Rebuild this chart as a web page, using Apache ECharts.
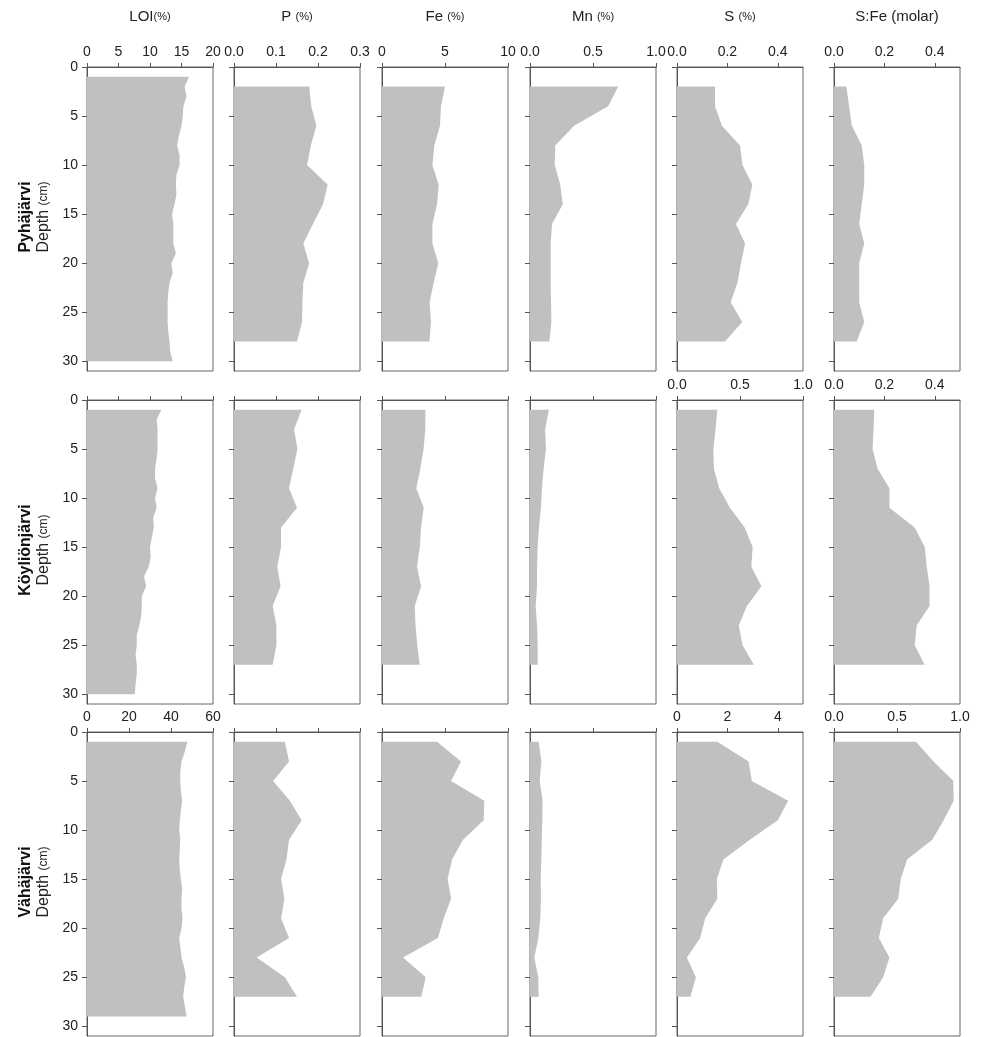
<!DOCTYPE html>
<html><head><meta charset="utf-8">
<script src="https://cdn.jsdelivr.net/npm/echarts@6/dist/echarts.min.js"></script>
<style>html,body{margin:0;padding:0;background:#fff}#c{width:981px;height:1037px}</style>
</head><body><div id="c"></div>
<script>
// ---------------- DATA ----------------
const columnTitles = ['LOI', 'P', 'Fe', 'Mn', 'S', 'S:Fe'];
const lakeNames = ['Pyhäjärvi', 'Köyliönjärvi', 'Vähäjärvi'];
const depthTicks = [0, 5, 10, 15, 20, 25, 30];

// Pyhäjärvi
const pyhLoiDepth = [1,2,3,4,5,6,7,8,9,10,11,12,13,14,15,16,17,18,19,20,21,22,23,24,25,26,27,28,29,30];
const pyhLoi = [16.2,15.5,15.8,15.3,15.2,15.0,14.6,14.3,14.7,14.7,14.2,14.1,14.2,13.9,13.5,13.7,13.7,13.7,14.1,13.4,13.6,13.1,12.9,12.8,12.8,12.8,12.9,13.1,13.2,13.6];
const pyhDepth = [2,4,6,8,10,12,14,16,18,20,22,24,26,28];
const pyhP   = [0.179,0.184,0.196,0.183,0.174,0.223,0.212,0.188,0.165,0.179,0.165,0.163,0.162,0.150];
const pyhFe  = [5.0,4.68,4.6,4.15,4.0,4.5,4.37,4.0,4.0,4.47,4.1,3.78,3.89,3.76];
const pyhMn  = [0.70,0.62,0.35,0.20,0.196,0.24,0.26,0.175,0.164,0.164,0.164,0.167,0.17,0.153];
const pyhS   = [0.151,0.151,0.178,0.25,0.26,0.299,0.283,0.234,0.27,0.254,0.24,0.213,0.259,0.19];
const pyhSFe = [0.049,0.06,0.071,0.11,0.12,0.12,0.11,0.10,0.12,0.10,0.10,0.10,0.12,0.09];

// Köyliönjärvi
const koyLoiDepth = [1,2,3,4,5,6,7,8,9,10,11,12,13,14,15,16,17,18,19,20,21,22,23,24,25,26,27,28,29,30];
const koyLoi = [11.8,11.05,11.2,11.2,11.2,11.05,10.8,10.8,11.2,10.8,11.05,10.5,10.6,10.3,10.0,10.1,9.8,9.05,9.4,8.7,8.7,8.6,8.3,7.9,7.9,7.7,7.9,7.9,7.7,7.6];
const koyDepth = [1,3,5,7,9,11,13,15,17,19,21,23,25,27];
const koyP   = [0.161,0.143,0.151,0.141,0.131,0.150,0.112,0.112,0.103,0.111,0.092,0.101,0.101,0.092];
const koyFe  = [3.44,3.44,3.3,3.04,2.72,3.31,3.1,3.0,2.78,3.1,2.6,2.66,2.8,3.0];
const koyMn  = [0.15,0.12,0.127,0.108,0.095,0.087,0.071,0.061,0.056,0.056,0.045,0.056,0.061,0.061];
const koyS   = [0.32,0.306,0.288,0.293,0.335,0.42,0.537,0.60,0.59,0.67,0.555,0.49,0.52,0.61];
const koySFe = [0.16,0.157,0.153,0.173,0.22,0.22,0.32,0.36,0.368,0.379,0.379,0.328,0.32,0.36];

// Vähäjärvi
const vahLoiDepth = [1,2,3,4,5,6,7,8,9,10,11,12,13,14,15,16,17,18,19,20,21,22,23,24,25,26,27,28,29];
const vahLoi = [47.8,46.6,45.0,44.4,44.4,44.7,45.3,44.7,44.2,43.9,44.4,44.2,43.9,44.2,44.7,45.3,45.0,45.0,45.5,45.0,43.9,44.5,45.0,46.3,47.1,46.3,45.8,46.6,47.4];
const vahDepth = [1,3,5,7,9,11,13,15,17,19,21,23,25,27];
const vahP   = [0.121,0.131,0.093,0.133,0.161,0.131,0.125,0.112,0.12,0.112,0.131,0.054,0.121,0.150];
const vahFe  = [4.37,6.27,5.48,8.12,8.07,6.43,5.56,5.21,5.48,4.9,4.44,1.67,3.47,3.12];
const vahMn  = [0.069,0.09,0.077,0.10,0.098,0.093,0.09,0.085,0.087,0.082,0.066,0.034,0.066,0.069];
const vahS   = [1.6,2.84,2.97,4.41,4.0,2.89,1.84,1.58,1.6,1.12,0.92,0.39,0.75,0.53];
const vahSFe = [0.65,0.79,0.947,0.95,0.87,0.78,0.58,0.53,0.51,0.39,0.356,0.44,0.39,0.29];

// x-axis scales (max) and tick values per row
const xMaxRow1 = [20, 0.3, 10, 1.0, 0.5, 0.5];
const xMaxRow2 = [20, 0.3, 10, 1.0, 1.0, 0.5];
const xMaxRow3 = [60, 0.3, 10, 1.0, 5, 1.0];
const xTicksRow1 = [[0,5,10,15,20],[0,0.1,0.2,0.3],[0,5,10],[0,0.5,1.0],[0,0.2,0.4],[0,0.2,0.4]];
const xTicksRow2 = [[0,5,10,15,20],[0,0.1,0.2,0.3],[0,5,10],[0,0.5,1.0],[0,0.5,1.0],[0,0.2,0.4]];
const xTicksRow3 = [[0,20,40,60],[0,0.1,0.2,0.3],[0,5,10],[0,0.5,1.0],[0,2,4],[0,0.5,1.0]];
const xLabelsShownRow1 = [true,true,true,true,true,true];
const xLabelsShownRow2 = [false,false,false,false,true,true];
const xLabelsShownRow3 = [true,false,false,false,true,true];

// ---------------- BUILD ----------------
const rowsData = [
  [[pyhLoiDepth,pyhLoi],[pyhDepth,pyhP],[pyhDepth,pyhFe],[pyhDepth,pyhMn],[pyhDepth,pyhS],[pyhDepth,pyhSFe]],
  [[koyLoiDepth,koyLoi],[koyDepth,koyP],[koyDepth,koyFe],[koyDepth,koyMn],[koyDepth,koyS],[koyDepth,koySFe]],
  [[vahLoiDepth,vahLoi],[vahDepth,vahP],[vahDepth,vahFe],[vahDepth,vahMn],[vahDepth,vahS],[vahDepth,vahSFe]]
];
const xMaxes = [xMaxRow1, xMaxRow2, xMaxRow3];
const xTicks = [xTicksRow1, xTicksRow2, xTicksRow3];
const xShown = [xLabelsShownRow1, xLabelsShownRow2, xLabelsShownRow3];

const colLeft = [87, 234, 382, 530, 677, 834];
const rowTop = [67, 400, 732];
const PW = 126, PH = 304;
const FONT = 'Liberation Sans, Arial, sans-serif';
const AX = '#555';

const grids = [], xAxes = [], yAxes = [], series = [];
let idx = 0;
for (let r = 0; r < 3; r++) {
  for (let c = 0; c < 6; c++) {
    const ticks = xTicks[r][c];
    const dec = ticks.some(t => Math.abs(t % 1) > 1e-9) || xMaxes[r][c] % 1 !== 0 ? 1 : 0;
    grids.push({left: colLeft[c], top: rowTop[r], width: PW, height: PH, show: true,
      borderColor: '#666', borderWidth: 1, backgroundColor: 'transparent'});
    xAxes.push({gridIndex: idx, type: 'value', position: 'top', min: 0, max: xMaxes[r][c],
      axisLine: {show: true, onZero: false, lineStyle: {color: AX, width: 1}},
      axisTick: {show: true, inside: false, length: 4, customValues: ticks, lineStyle: {color: AX}},
      axisLabel: {show: xShown[r][c], customValues: ticks, margin: 8, fontSize: 14, color: '#222',
        fontFamily: FONT, formatter: v => Number(v).toFixed(dec)},
      splitLine: {show: false}});
    yAxes.push({gridIndex: idx, type: 'value', inverse: true, min: 0, max: 31,
      axisLine: {show: true, onZero: false, lineStyle: {color: AX, width: 1}},
      axisTick: {show: true, inside: false, length: 5, customValues: depthTicks, lineStyle: {color: AX}},
      axisLabel: {show: c === 0, customValues: depthTicks, margin: 9, fontSize: 14, color: '#222', fontFamily: FONT},
      splitLine: {show: false}});
    const depth = rowsData[r][c][0], vals = rowsData[r][c][1];
    series.push({type: 'custom', coordinateSystem: 'cartesian2d', xAxisIndex: idx, yAxisIndex: idx,
      data: [[0, 0]], clip: true, silent: true,
      renderItem: (params, api) => {
        const pts = [api.coord([0, depth[0]])];
        for (let k = 0; k < depth.length; k++) pts.push(api.coord([vals[k], depth[k]]));
        pts.push(api.coord([0, depth[depth.length - 1]]));
        return {type: 'polygon', shape: {points: pts}, style: {fill: '#c0c0c0', stroke: null}};
      }});
    idx++;
  }
}

const graphics = [];
const titleRich = {a: {fontSize: 15, fontFamily: FONT, fill: '#222'}, b: {fontSize: 11, fontFamily: FONT, fill: '#222'}};
const titleTexts = ['{a|LOI}{b|(%)}', '{a|P }{b|(%)}', '{a|Fe }{b|(%)}', '{a|Mn }{b|(%)}', '{a|S }{b|(%)}', '{a|S:Fe (molar)}'];
for (let c = 0; c < 6; c++) {
  graphics.push({type: 'text', x: colLeft[c] + PW / 2, y: 17,
    style: {text: titleTexts[c], rich: titleRich, align: 'center', verticalAlign: 'middle'}});
}
for (let r = 0; r < 3; r++) {
  const cy = rowTop[r] + PH / 2 - 2;
  graphics.push({type: 'text', x: 26, y: cy, rotation: Math.PI / 2,
    style: {text: lakeNames[r], font: 'bold 16px ' + FONT, fill: '#111', align: 'center', verticalAlign: 'middle'}});
  graphics.push({type: 'text', x: 44, y: cy, rotation: Math.PI / 2,
    style: {text: '{a|Depth }{b|(cm)}', rich: {a: {fontSize: 16, fontFamily: FONT, fill: '#222'}, b: {fontSize: 12, fontFamily: FONT, fill: '#222'}},
      align: 'center', verticalAlign: 'middle'}});
}

const chart = echarts.init(document.getElementById('c'), null, {renderer: 'canvas'});
chart.setOption({animation: false, backgroundColor: '#fff', grid: grids, xAxis: xAxes, yAxis: yAxes, series: series, graphic: graphics});
</script></body></html>
